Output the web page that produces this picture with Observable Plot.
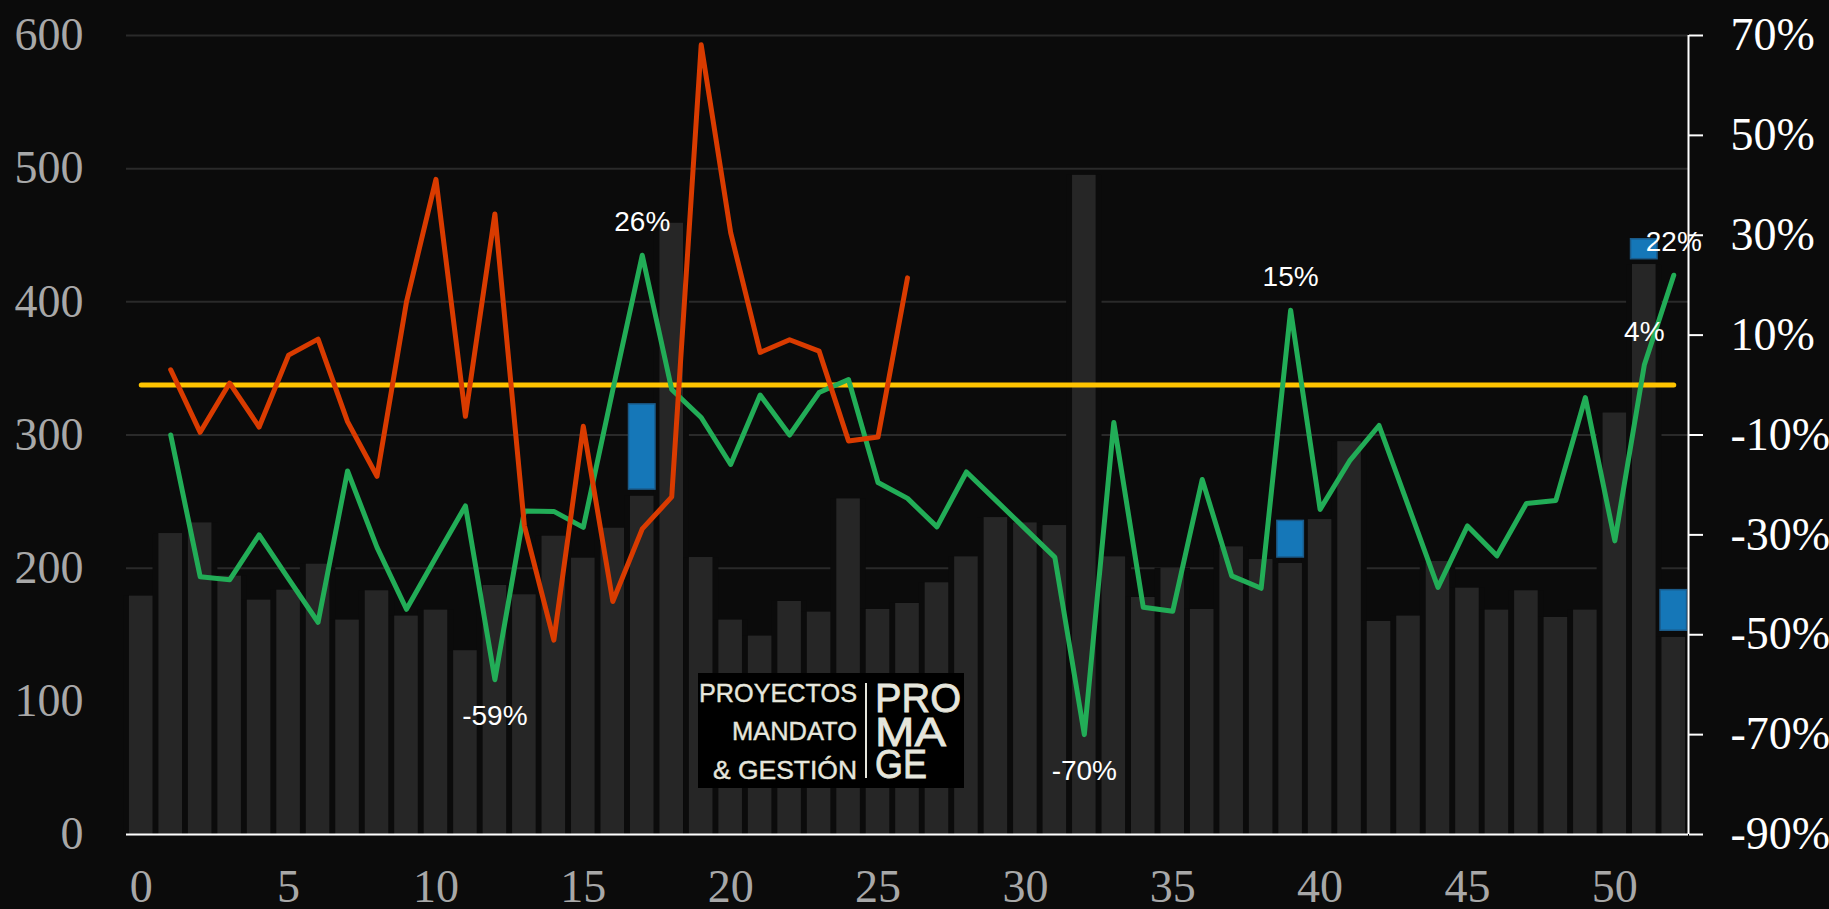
<!DOCTYPE html>
<html>
<head>
<meta charset="utf-8">
<script src="https://cdn.jsdelivr.net/npm/d3@7"></script>
<script src="https://cdn.jsdelivr.net/npm/@observablehq/plot@0.6"></script>
<style>
  html, body { margin: 0; padding: 0; background: #0b0b0b; overflow: hidden; }
  #wrap { position: relative; width: 1829px; height: 909px; overflow: hidden; }
  #chart svg { display: block; }
  #logo { position: absolute; left: 698px; top: 673px; }
</style>
</head>
<body>
<div id="wrap">
  <div id="chart"></div>
  <svg id="logo" width="266" height="115" viewBox="0 0 266 115">
    <rect width="266" height="115" fill="#000"></rect>
    <g fill="#e6e6dc" stroke="#e6e6dc" stroke-width="0.4" font-family="Liberation Sans, Arial, sans-serif">
      <text x="1" y="29" font-size="26" textLength="158" lengthAdjust="spacingAndGlyphs">PROYECTOS</text>
      <text x="34" y="67" font-size="26" textLength="125" lengthAdjust="spacingAndGlyphs">MANDATO</text>
      <text x="15" y="106" font-size="26" textLength="144" lengthAdjust="spacingAndGlyphs">&amp; GESTIÓN</text>
      <rect x="167" y="10" width="2" height="95" stroke="none"></rect>
      <text x="177" y="39" font-size="40" stroke-width="0.8" textLength="86" lengthAdjust="spacingAndGlyphs">PRO</text>
      <text x="177" y="73" font-size="40" stroke-width="0.8" textLength="71" lengthAdjust="spacingAndGlyphs">MA</text>
      <text x="177" y="105" font-size="40" stroke-width="0.8" textLength="52" lengthAdjust="spacingAndGlyphs">GE</text>
    </g>
  </svg>
</div>
<script>
// ---- data ----
const weeks = d3.range(0, 53);
const barValues = [179, 226, 234, 194, 176, 183.5, 203, 161, 183, 164,
  168.5, 138, 187, 180, 224, 207.5, 230, 254, 459, 208,
  161, 149, 175, 167, 252, 169, 173.5, 189, 208.5, 238,
  234, 232, 495, 208.5, 178, 200, 169, 216, 206.5, 203.5,
  236.5, 295, 160, 164, 205, 185, 168.5, 183, 163, 168.5,
  316.5, 428, 148];

const greenWeeks = d3.range(1, 53);
const greenPct = [-10, -38.4, -39, -30, -38.8, -47.5, -17.2, -32.5, -44.9, -34.5,
  -24.2, -59, -25.2, -25.3, -28.5, -1, 26, -0.9, -6.5, -15.9,
  -2, -10, -1.5, 1.1, -19.5, -22.7, -28.4, -17.4, -23.1, -28.8,
  -34.5, -70, -7.5, -44.5, -45.3, -18.9, -38.2, -40.7, 15, -24.9,
  -15.2, -8.1, -24.3, -40.5, -28.2, -34.2, -23.7, -23.1, -2.5, -31.2,
  4, 22];

const redWeeks = d3.range(1, 27);
const redValues = [349, 302, 339, 306, 360, 372, 310, 269, 400, 492,
  314, 466, 232, 146, 306.5, 175, 229.5, 253.5, 593, 452,
  362, 371.5, 363, 295.5, 298.5, 418];

const blueWeeks = [17, 24, 39, 51, 52];
const blueLow = [259, 257, 208, 432, 153];
const blueHigh = [323, 257, 235.5, 447, 183.5];

const labelWeeks = [12, 17, 32, 39, 51, 52];

const leftTicks = [0, 100, 200, 300, 400, 500, 600];
const pctTicks = [-90, -70, -50, -30, -10, 10, 30, 50, 70];
const xTicks = [0, 5, 10, 15, 20, 25, 30, 35, 40, 45, 50];
const referencePct = 0;

// ---- scales helpers ----
const leftMax = 600, pctMin = -90, pctMax = 70;
const toLeft = p => (p - pctMin) * leftMax / (pctMax - pctMin);
const fromLeft = v => v * (pctMax - pctMin) / leftMax + pctMin;

const bg = "#0b0b0b";
const bars = weeks.map((w, i) => ({x: w, v: barValues[i]}));
const green = greenWeeks.map((w, i) => ({x: w, p: greenPct[i]}));
const red = redWeeks.map((w, i) => ({x: w, v: redValues[i]}));
const blue = blueWeeks.map((w, i) => ({x: w, lo: blueLow[i], hi: blueHigh[i]}));
const labels = labelWeeks.map(w => ({x: w, p: greenPct[greenWeeks.indexOf(w)]}));
const refLine = [weeks[0], weeks[weeks.length - 1]].map(w => ({x: w, p: referencePct}));

const serif = "Liberation Serif, 'Times New Roman', serif";
const sans = "Liberation Sans, Arial, sans-serif";

const chart = Plot.plot({
  width: 1829,
  height: 909,
  marginLeft: 126,
  marginRight: 141,
  marginTop: 35,
  marginBottom: 75,
  style: {background: bg, color: "white", overflow: "visible"},
  x: {type: "linear", domain: [weeks[0] - 0.5, weeks[weeks.length - 1] + 0.5], label: null},
  y: {domain: [0, leftMax], label: null},
  marks: [
    Plot.ruleY(leftTicks, {stroke: "#2a2a2a", strokeWidth: 2}),
    Plot.rectY(bars, {x1: d => d.x - 0.6, x2: d => d.x + 0.6, y1: d => 0, y2: "v", fill: bg}),
    Plot.rectY(bars, {x1: d => d.x - 0.4, x2: d => d.x + 0.4, y1: d => 0, y2: "v", fill: "#262626"}),
    Plot.rectY(blue, {x1: d => d.x - 0.45, x2: d => d.x + 0.45, y1: "lo", y2: "hi",
      fill: "#1577b8", stroke: "#1b5a88", strokeWidth: 1.5}),
    Plot.ruleY([0], {stroke: "white", strokeWidth: 2}),
    Plot.ruleX([weeks[weeks.length - 1] + 0.5], {y1: 0, y2: leftMax, stroke: "white", strokeWidth: 2}),
    Plot.line(refLine, {x: "x", y: d => toLeft(d.p), stroke: "#ffc400", strokeWidth: 5, strokeLinecap: "round"}),
    Plot.line(green, {x: "x", y: d => toLeft(d.p), stroke: "#22ad57", strokeWidth: 5,
      strokeLinecap: "round", strokeLinejoin: "round"}),
    Plot.line(red, {x: "x", y: "v", stroke: "#d93b00", strokeWidth: 5,
      strokeLinecap: "round", strokeLinejoin: "round"}),
    Plot.text(labels.filter(d => d.p >= 0), {x: "x", y: d => toLeft(d.p), text: d => Math.round(d.p) + "%",
      dy: -33, fill: "white", fontSize: 28, fontFamily: sans, textAnchor: "middle"}),
    Plot.text(labels.filter(d => d.p < 0), {x: "x", y: d => toLeft(d.p), text: d => Math.round(d.p) + "%",
      dy: 36, fill: "white", fontSize: 28, fontFamily: sans, textAnchor: "middle"}),
    Plot.axisY(leftTicks, {anchor: "left", tickSize: 0, tickPadding: 43, fontSize: 46,
      fontFamily: serif, fill: "#a8a8a8", label: null}),
    Plot.axisY(pctTicks.map(toLeft), {anchor: "right", tickSize: 14, tickPadding: 28, fontSize: 46,
      fontFamily: serif, fill: "white", stroke: "white", strokeWidth: 2, label: null,
      tickFormat: v => Math.round(fromLeft(v)) + "%"}),
    Plot.axisX(xTicks, {anchor: "bottom", tickSize: 0, tickPadding: 35, fontSize: 46,
      fontFamily: serif, fill: "#a8a8a8", label: null})
  ]
});
document.getElementById("chart").appendChild(chart);
</script>
</body>
</html>
